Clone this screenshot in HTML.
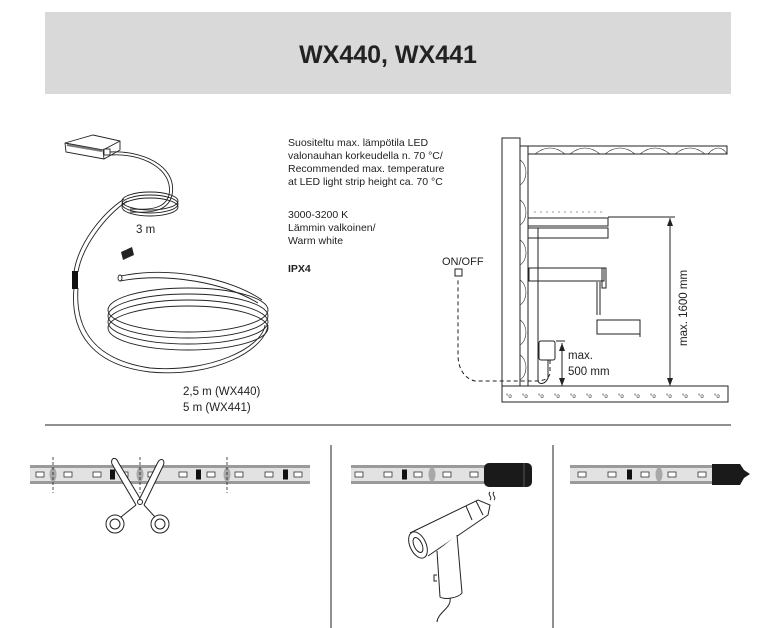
<!DOCTYPE html>
<html><head><meta charset="utf-8"><style>
html,body{margin:0;padding:0;background:#fff;width:775px;height:628px;overflow:hidden}
svg{display:block}
text{font-family:"Liberation Sans",sans-serif;fill:#222}
</style></head><body>
<svg width="775" height="628" viewBox="0 0 775 628" xmlns="http://www.w3.org/2000/svg">
<defs>
<g id="led"><rect x="0" y="-2.5" width="8" height="5" fill="#fff" stroke="#333" stroke-width="0.8"/></g>
<g id="blk"><rect x="0" y="-5" width="5" height="10" fill="#111"/></g>
<g id="ov"><ellipse cx="0" cy="0" rx="3.5" ry="7" fill="#a8a8a8"/></g>
<clipPath id="fl"><rect x="503" y="387" width="224" height="14"/></clipPath>
</defs>
<!-- header -->
<rect x="45" y="12" width="686" height="82" fill="#d9d9d9"/>
<text x="388" y="63" font-size="25" font-weight="bold" text-anchor="middle" fill="#222">WX440, WX441</text>

<!-- left top: controller + cables -->
<g fill="none" stroke="#222" stroke-width="0.9">
<path d="M65,143 L93,135 L120,141 L120,150 L104,159 L66,152 Z" fill="#fff"/>
<path d="M65,143 L103,150 L120,141 M103,150 L104,159" />
<path d="M67,145 L102,151" stroke="#777" stroke-width="2"/>
<rect x="104" y="149" width="6" height="6" fill="#fff"/>
<path d="M110,152 C140,150 178,165 172,195 C168,212 150,213 130,212"/>
<path d="M111,155 C140,153 174,168 169,195 C165,209 150,210 130,209"/>
<ellipse cx="150" cy="207" rx="28" ry="9"/>
<ellipse cx="150" cy="204" rx="28" ry="9"/>
<ellipse cx="150" cy="201" rx="28" ry="9"/>
<path d="M124,199 C100,215 78,245 74,272"/>
<path d="M127,201 C103,218 82,248 78,272"/>
<path d="M74,288 C70,330 90,365 150,372 C215,378 265,350 268,325"/>
<path d="M78,288 C75,330 95,360 150,368 C210,373 262,348 265,325"/>
<ellipse cx="188" cy="310" rx="80" ry="22"/>
<ellipse cx="188" cy="316" rx="80" ry="22"/>
<ellipse cx="188" cy="322" rx="80" ry="22"/>
<ellipse cx="188" cy="328" rx="80" ry="22"/>
<path d="M121,276 C170,266 230,278 262,300"/>
<path d="M120,281 C168,272 225,283 258,303"/>
<ellipse cx="120" cy="278" rx="2" ry="3"/>
</g>
<rect x="72" y="271" width="6" height="18" fill="#111"/>
<path d="M121,252 L132,247 L134,255 L123,260 Z" fill="#222"/>
<text x="136" y="233" font-size="11.5">3 m</text>
<text x="183" y="395" font-size="11.5">2,5 m (WX440)</text>
<text x="183" y="411" font-size="11.5">5 m (WX441)</text>

<!-- text block -->
<g font-size="10.5">
<text x="288" y="146">Suositeltu max. lämpötila LED</text>
<text x="288" y="159">valonauhan korkeudella n. 70 °C/</text>
<text x="288" y="172">Recommended max. temperature</text>
<text x="288" y="185">at LED light strip height ca. 70 °C</text>
<text x="288" y="218">3000-3200 K</text>
<text x="288" y="231">Lämmin valkoinen/</text>
<text x="288" y="244">Warm white</text>
<text x="288" y="272" font-weight="bold">IPX4</text>
</g>

<!-- sauna -->
<g fill="none" stroke="#222" stroke-width="1">
<rect x="502" y="138" width="18" height="250" fill="#fff"/>
<rect x="520" y="146" width="8" height="240" fill="#fff"/>
<path d="M520,160 C528,165 528,180 520,185 M520,200 C528,205 528,220 520,225 M520,240 C528,245 528,260 520,265 M520,280 C528,285 528,300 520,305 M520,320 C528,325 528,340 520,345 M520,355 C528,360 528,375 520,380" stroke-width="0.6"/>
<rect x="528" y="146" width="199" height="8" fill="#fff"/>
<path d="M535,154 C545,146 555,146 565,154 M570,154 C580,146 590,146 600,154 M605,154 C615,146 625,146 635,154 M640,154 C650,146 660,146 670,154 M675,154 C685,146 695,146 705,154 M708,154 C715,146 722,146 727,154" stroke-width="0.6"/>
<rect x="502" y="386" width="226" height="16" fill="#fff"/>
<rect x="528" y="218" width="80" height="8" fill="#fff"/>
<rect x="528" y="228" width="80" height="10" fill="#fff"/>
<path d="M608,217 L675,217"/>
<path d="M534,212 L604,212" stroke-dasharray="2,4" stroke="#999"/>
<rect x="529" y="268" width="75" height="13" fill="#fff"/>
<rect x="602" y="268" width="4" height="20"/>
<path d="M597,282 L597,315 M600,282 L600,315"/>
<rect x="597" y="320" width="43" height="14" fill="#fff"/>
<path d="M640,320 L640,337"/>
<path d="M538,228 L538,380 C538,385 545,385 548,378 L548,360" />
<rect x="539" y="341" width="16" height="19" rx="2" fill="#fff"/>
<path d="M550,360 L550,372 C550,378 545,381 535,381 L475,381 C462,378 458,365 458,355 L458,278" stroke-dasharray="4,3"/>
<rect x="455" y="269" width="7" height="7" fill="#fff"/>
<path d="M556,341 L565,341 M670,218 L670,386 M562,343 L562,386"/>
</g>
<path d="M670,218 l-3,8 h6 Z M670,386 l-3,-8 h6 Z M562,343 l-3,8 h6 Z M562,386 l-3,-8 h6 Z" fill="#222"/>
<g font-size="6" fill="#555" clip-path="url(#fl)">
<text x="506" y="398">°o</text><text x="522" y="398">°o</text><text x="538" y="398">°o</text><text x="554" y="398">°o</text><text x="570" y="398">°o</text><text x="586" y="398">°o</text><text x="602" y="398">°o</text><text x="618" y="398">°o</text><text x="634" y="398">°o</text><text x="650" y="398">°o</text><text x="666" y="398">°o</text><text x="682" y="398">°o</text><text x="698" y="398">°o</text><text x="714" y="398">°o</text>
</g>
<text x="442" y="265" font-size="11">ON/OFF</text>
<text x="568" y="359" font-size="11.5">max.</text>
<text x="568" y="375" font-size="11.5">500 mm</text>
<text transform="translate(687,346) rotate(-90)" font-size="11.5">max. 1600 mm</text>

<!-- divider -->
<path d="M45,425 L731,425 M331,445 L331,628 M553,445 L553,628" stroke="#222" stroke-width="1"/>

<!-- strip 1 -->
<g>
<rect x="30" y="465" width="280" height="19" fill="#e2e2e2"/>
<rect x="30" y="465" width="280" height="3" fill="#9a9a9a"/>
<rect x="30" y="481" width="280" height="3" fill="#9a9a9a"/>
<g transform="translate(0,474.5)">
<use href="#ov" x="53"/><use href="#ov" x="140"/><use href="#ov" x="227"/>
<use href="#led" x="36"/><use href="#led" x="64"/><use href="#led" x="93"/><use href="#blk" x="110"/><use href="#led" x="120"/><use href="#led" x="148"/><use href="#led" x="179"/><use href="#blk" x="196"/><use href="#led" x="207"/><use href="#led" x="235"/><use href="#led" x="265"/><use href="#blk" x="283"/><use href="#led" x="294"/>
</g>
<path d="M53,457 V493 M140,457 V493 M227,457 V493" stroke="#222" stroke-width="0.8" stroke-dasharray="3,2"/>
<g fill="none" stroke="#222" stroke-width="1">
<path d="M141,500 L118,462 C116,456 110,458 112,464 L136,505" fill="#fff"/>
<path d="M139,500 L158,462 C161,457 166,460 163,466 L144,505" fill="#fff"/>
<path d="M136,505 L121,517 M144,505 L155,517"/>
<circle cx="115" cy="524" r="9" fill="#fff"/><circle cx="115" cy="524" r="5"/>
<circle cx="160" cy="524" r="9" fill="#fff"/><circle cx="160" cy="524" r="5"/>
<circle cx="140" cy="502" r="2.5"/>
</g>
</g>

<!-- strip 2 -->
<g>
<rect x="351" y="465" width="145" height="19" fill="#e2e2e2"/>
<rect x="351" y="465" width="145" height="3" fill="#9a9a9a"/>
<rect x="351" y="481" width="145" height="3" fill="#9a9a9a"/>
<g transform="translate(0,474.5)">
<use href="#led" x="355"/><use href="#led" x="384"/><use href="#blk" x="402"/><use href="#led" x="414"/><use href="#ov" x="432"/><use href="#led" x="443"/><use href="#led" x="470"/>
</g>
<rect x="484" y="463" width="48" height="24" rx="5" fill="#1a1a1a"/>
<path d="M524,463 V487" stroke="#555"/>
<g fill="none" stroke="#222" stroke-width="1">
<path d="M490,492 c-3,3 3,5 0,8 M494,492 c-3,3 3,5 0,8"/>
<path d="M410,533 L478,500 L490,505 L488,515 L428,556" fill="#fff"/>
<path d="M476,501 L483,515 M466,506 L472,520"/>
<path d="M437,551 L440,597 C445,600 458,598 462,593 L457,535" fill="#fff"/>
<ellipse cx="418" cy="545" rx="8" ry="14" transform="rotate(-25 418 545)" fill="#fff"/>
<ellipse cx="418" cy="545" rx="4" ry="8" transform="rotate(-25 418 545)"/>
<path d="M437,575 h-3 v6 h3"/>
<path d="M450,598 C452,608 438,612 437,622"/>
</g>
</g>

<!-- strip 3 -->
<g>
<rect x="570" y="465" width="145" height="19" fill="#e2e2e2"/>
<rect x="570" y="465" width="145" height="3" fill="#9a9a9a"/>
<rect x="570" y="481" width="145" height="3" fill="#9a9a9a"/>
<g transform="translate(0,474.5)">
<use href="#led" x="578"/><use href="#led" x="608"/><use href="#blk" x="627"/><use href="#led" x="641"/><use href="#ov" x="659"/><use href="#led" x="668"/><use href="#led" x="698"/>
</g>
<path d="M712,464 L740,464 L744,470 L750,474 L744,478 L740,485 L712,485 Z" fill="#1a1a1a"/>
</g>
</svg>
</body></html>
